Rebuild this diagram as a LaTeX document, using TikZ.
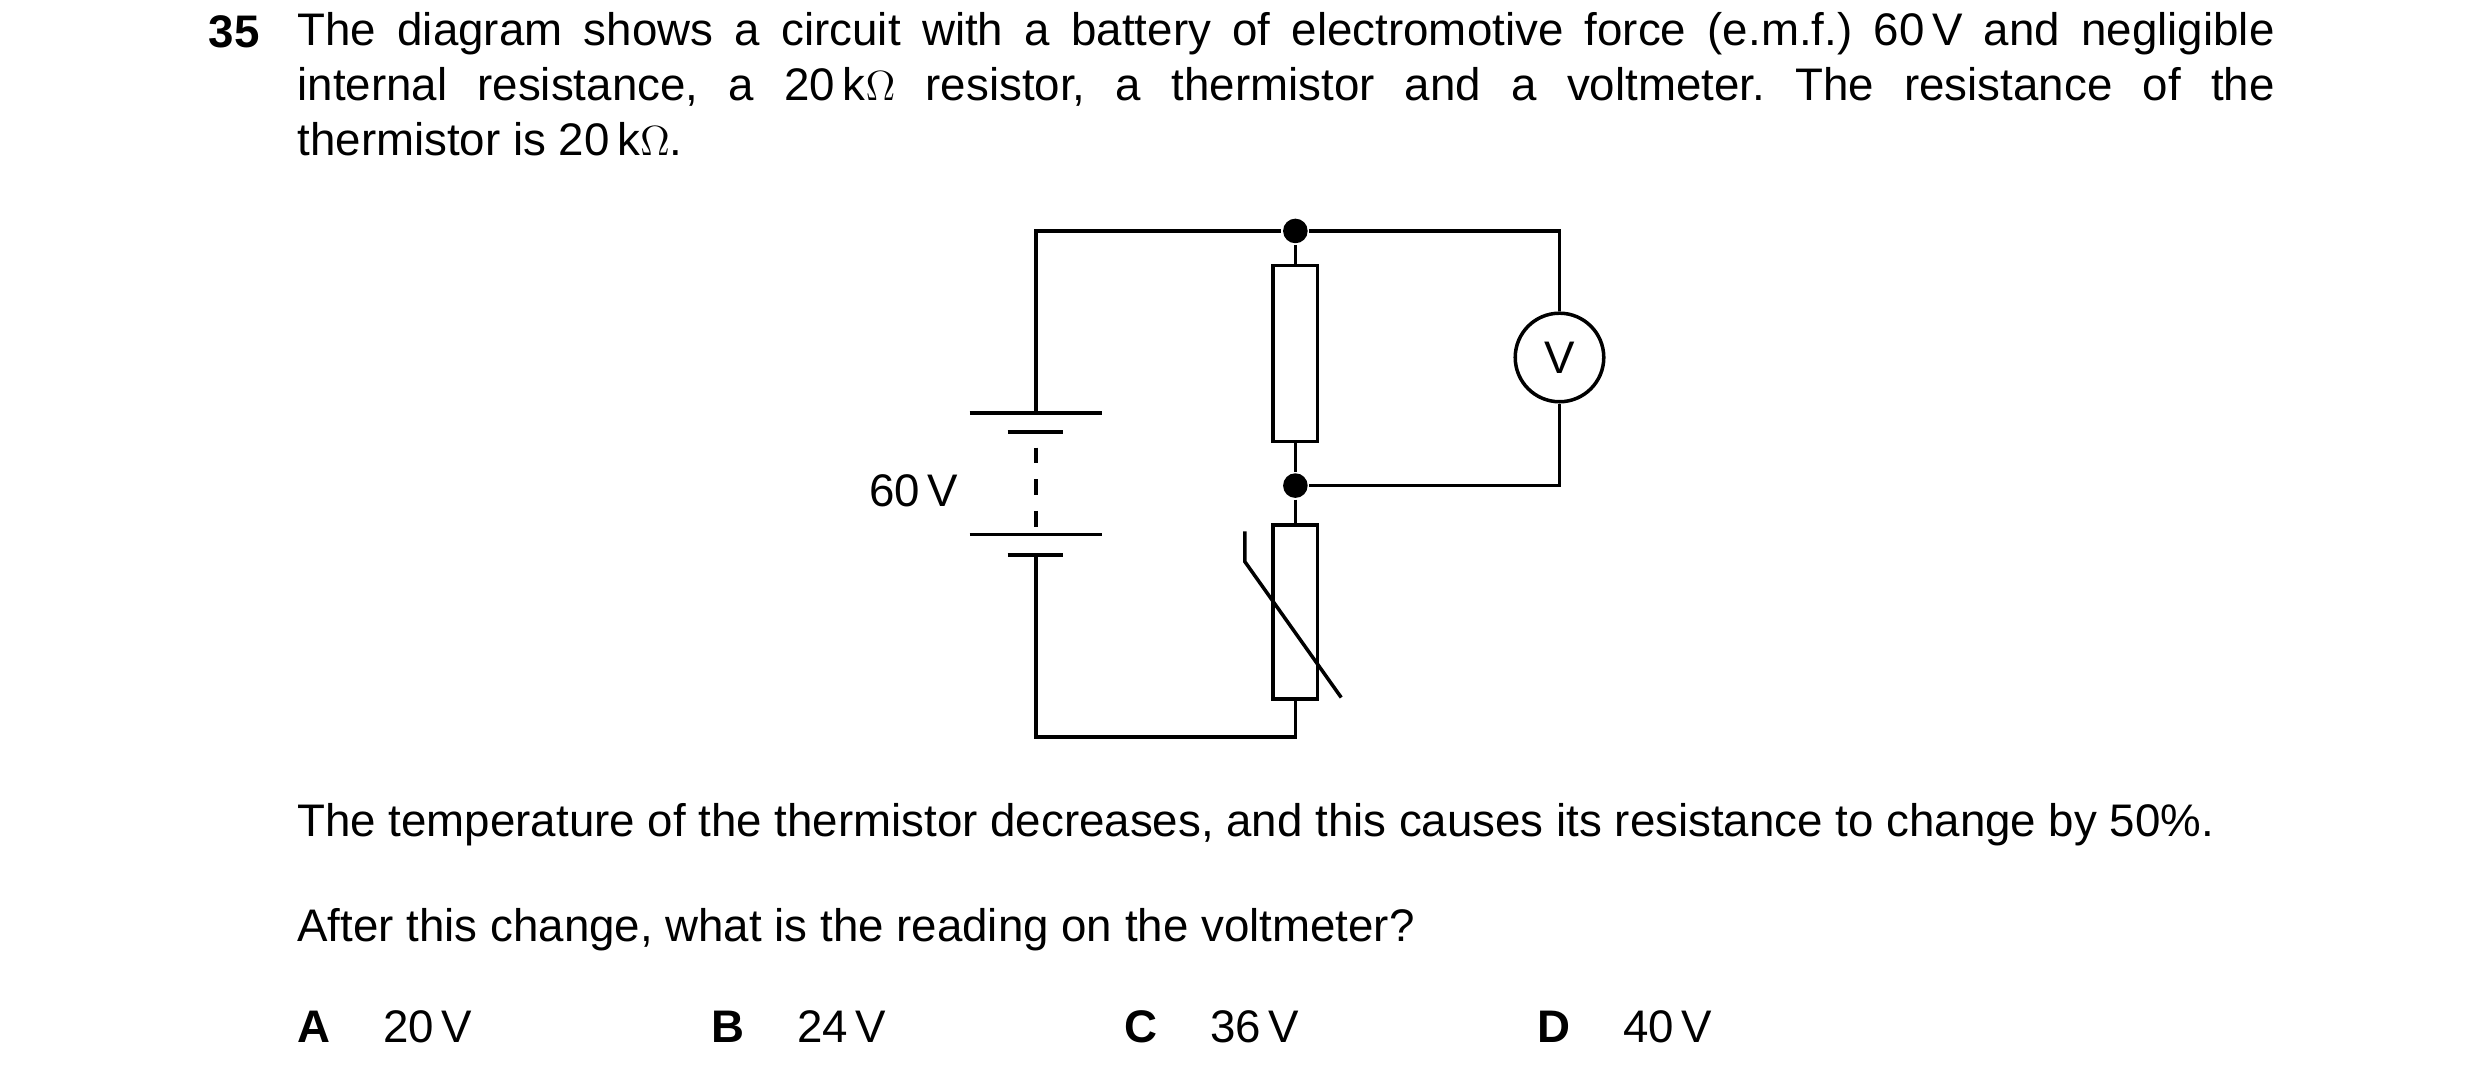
\documentclass[tikz,border=0pt]{standalone}
\usepackage{fontspec}
\setmainfont{Liberation Sans}
\usepackage{tikz}
\frenchspacing
\begin{document}
\begin{tikzpicture}[x=0.01582cm,y=-0.01582cm,line width=1pt,
    txt/.style={inner sep=0pt,anchor=base west,font=\fontsize{13}{15.6}\selectfont},
    dot/.style={circle,fill,inner sep=0pt,minimum size=7pt}]
\useasboundingbox (0,0) rectangle (1568,683);
% question text
\node[txt] (num) at (131,30) {\textbf{35}};
\node[txt,anchor=north west,text width=19.78cm,align=justify,font=\fontsize{13}{15.6}\selectfont] (stem) at (187,7)
    {The diagram shows a circuit with a battery of electromotive force (e.m.f.) 60\,V and negligible\linebreak
     internal resistance, a 20\,k$\Omega$ resistor, a thermistor and a voltmeter. The resistance of the\linebreak
     thermistor is 20\,k$\Omega$.};

% circuit
\coordinate (tl) at (655,146);
\coordinate (bl) at (655,466);
\coordinate (br) at (819,466);
\coordinate (tr) at (986,146);
\coordinate (mr) at (986,307);
\node[dot] (jtop) at (819,146) {};
\node[dot] (jmid) at (819,307) {};
\draw (805,168) rectangle (833,279);
\node[draw,circle,minimum size=0.886cm,inner sep=0pt,font=\fontsize{13}{14}\selectfont] (vm) at (986,226) {V};
\coordinate (b1) at (655,261);
\coordinate (b2) at (655,273);
\coordinate (b3) at (655,338);
\coordinate (b4) at (655,351);
% wires
\draw (b1) -- (tl) -- (jtop) -- (tr) -- (vm.north);
\draw (vm.south) -- (mr) -- (jmid);
\draw (jtop) -- (819,168) (819,279) -- (jmid) -- (819,332);
\draw (b4) -- (bl) -- (br) -- (819,442);
% cells
\draw (613,261) -- (697,261) (613,338) -- (697,338);
\draw (637,273) -- (672,273) (637,351) -- (672,351);
\draw[dash pattern=on 4.5pt off 4.5pt] (655,283) -- (b3);
\node[txt,anchor=east,font=\fontsize{13}{14}\selectfont] (emf) at (607,310) {60\,V};
% thermistor
\draw (805,332) rectangle (833,442);
\draw (787,336) -- (787,355) -- (848,441);

% lower text
\node[txt] (temp) at (187,529) {The temperature of the thermistor decreases, and this causes its resistance to change by 50\%.};
\node[txt] (ask) at (187,595) {After this change, what is the reading on the voltmeter?};
\foreach \lab/\val/\x in {A/20/187,B/24/449,C/36/710,D/40/971}
  \node[txt] (opt\lab) at (\x,659) {\textbf{\lab}\hspace{1.15em}\val\,V};
\end{tikzpicture}
\end{document}
